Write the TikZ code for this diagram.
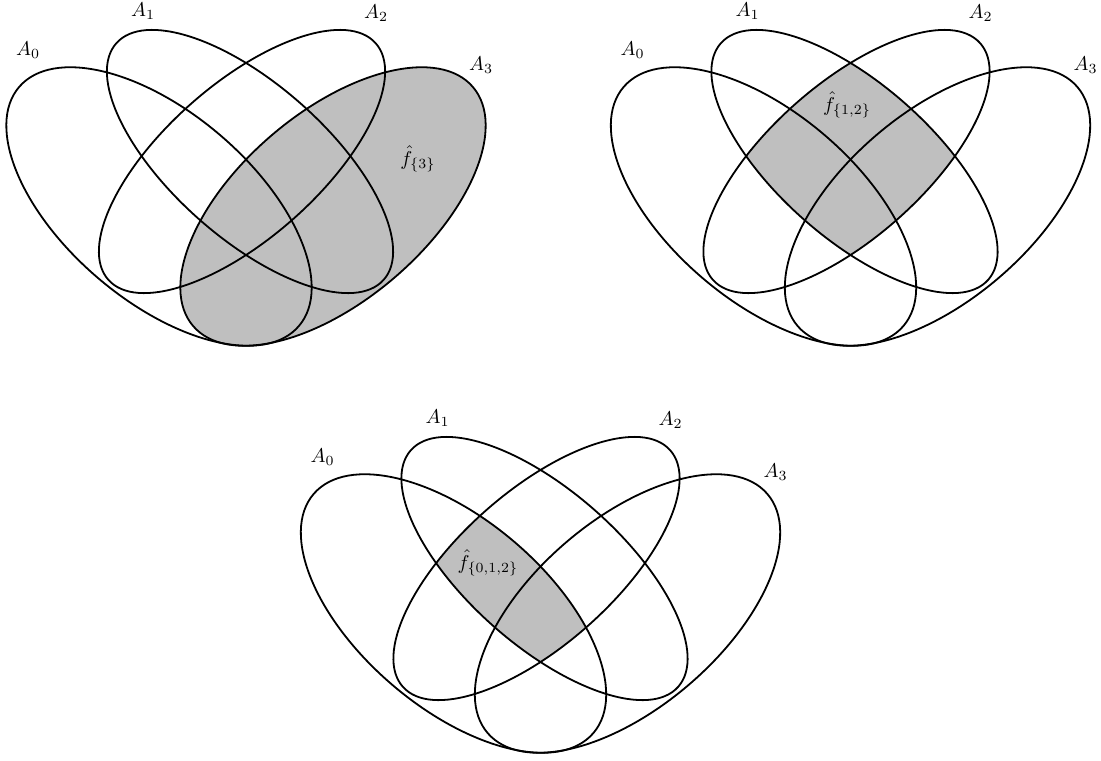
\documentclass[tikz,border=0pt]{standalone}
\begin{document}
\begin{tikzpicture}[x=0.5pt,y=-0.5pt,
  outline/.style={line width=0.9pt},
  region/.style={fill=lightgray},
  setlabel/.style={inner sep=0pt},
  eZ/.style={shift={(159,206.5)},rotate=-40.5},
  eO/.style={shift={(250,161.5)},rotate=-41.5},
  eT/.style={shift={(242,161.5)},rotate=41.5},
  eH/.style={shift={(333,206.5)},rotate=40.5}]
\useasboundingbox (0,0) rectangle (1101,760);
\newcommand\bigell{(0,0) ellipse [x radius=184, y radius=94]}
\newcommand\smallell{(0,0) ellipse [x radius=178.5, y radius=77]}
\newcommand\setoutlines[1]{%
  \draw[outline,eZ] \bigell;
  \draw[outline,eO] \smallell;
  \draw[outline,eT] \smallell;
  \draw[outline,eH] \bigell;
  \node[setlabel] (#1a0) at (28,50) {$A_0$};
  \node[setlabel] (#1a1) at (143,11) {$A_1$};
  \node[setlabel] (#1a2) at (376,13) {$A_2$};
  \node[setlabel] (#1a3) at (481,65) {$A_3$};
}
% diagram 1
\begin{scope}
  \fill[region,eH] \bigell;
  \setoutlines{p}
  \node[setlabel] (f3) at (418,159) {$\hat{f}_{\{3\}}$};
\end{scope}
% diagram 2
\begin{scope}[shift={(604.5,0)}]
  \begin{scope}
    \clip[eO] \smallell;
    \fill[region,eT] \smallell;
  \end{scope}
  \setoutlines{q}
  \node[setlabel] (f12) at (242.5,105) {$\hat{f}_{\{1,2\}}$};
\end{scope}
% diagram 3
\begin{scope}[shift={(294.5,407)}]
  \begin{scope}
    \clip[eZ] \bigell;
    \clip[eO] \smallell;
    \fill[region,eT] \smallell;
  \end{scope}
  \setoutlines{r}
  \node[setlabel] (f012) at (193.5,156) {$\hat{f}_{\{0,1,2\}}$};
\end{scope}
\end{tikzpicture}
\end{document}
